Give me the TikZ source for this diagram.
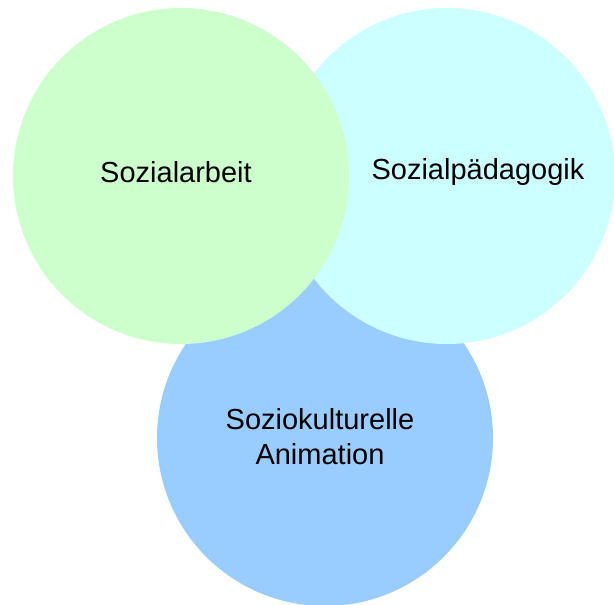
\documentclass[tikz,border=0pt]{standalone}
\usepackage{fontspec}
\setmainfont{Liberation Sans}
\definecolor{arbeitgreen}{HTML}{CCFFCC}
\definecolor{paedcyan}{HTML}{CCFFFF}
\definecolor{animblue}{HTML}{99CCFF}
\begin{document}
\begin{tikzpicture}[x=1pt, y=-1pt,
    field/.style={circle, inner sep=0pt, minimum size=336pt},
    fieldlabel/.style={align=center, font=\fontsize{29}{35}\selectfont}]
    \useasboundingbox (0,0) rectangle (614,605);
    \node[field, fill=animblue] (animation) at (325,438) {};
    \node[field, fill=paedcyan] (paedagogik) at (447,176) {};
    \node[field, fill=arbeitgreen] (arbeit) at (181,176) {};

    \node[fieldlabel] (arbeitlabel) at (176,172) {Sozialarbeit};
    \node[fieldlabel] (paedlabel) at (478,172) {Sozialpädagogik};
    \node[fieldlabel] (animlabel) at (320,437) {Soziokulturelle\\Animation};
  \end{tikzpicture}
\end{document}
